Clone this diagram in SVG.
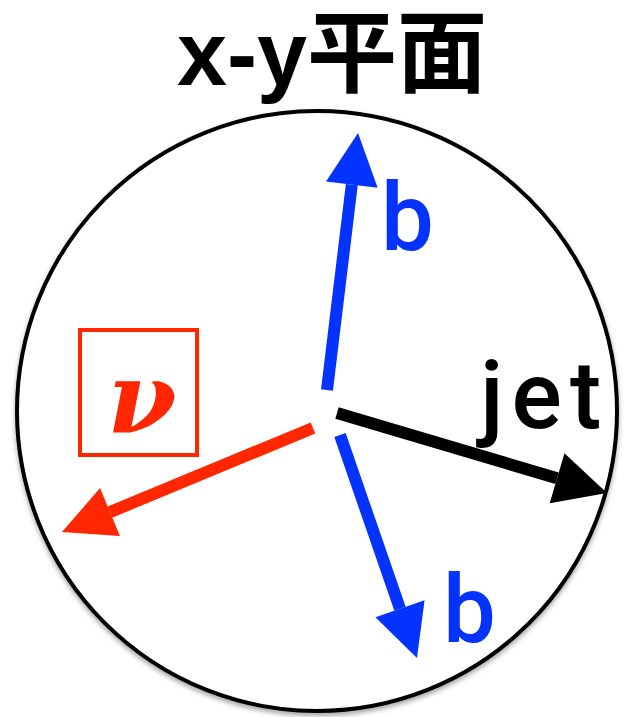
<svg xmlns="http://www.w3.org/2000/svg" width="630" height="717" viewBox="0 0 630 717">
  <style>
    .sans { font-family: "Liberation Sans", "Noto Sans CJK JP", Arial, sans-serif; }
    .lbl { font-family: Roboto, "Liberation Sans", Arial, sans-serif; font-size: 94px; font-weight: 500; }
    .blue { fill: #0433ff; }
    .arrow { fill: none; stroke-width: 12; stroke-linecap: butt; }
  </style>
  <defs>
    <filter id="shadow" x="-10%" y="-10%" width="120%" height="120%">
      <feDropShadow dx="0" dy="3" stdDeviation="2.5" flood-color="#000" flood-opacity="0.35"/>
    </filter>
    <marker id="headBlue" markerUnits="userSpaceOnUse" markerWidth="52" markerHeight="54" refX="0" refY="27" orient="auto" overflow="visible">
      <path d="M0,1 L52,27 L0,53 Z" fill="#0433ff"/>
    </marker>
    <marker id="headBlack" markerUnits="userSpaceOnUse" markerWidth="52" markerHeight="54" refX="0" refY="27" orient="auto" overflow="visible">
      <path d="M0,1 L52,27 L0,53 Z" fill="#000"/>
    </marker>
    <marker id="headRed" markerUnits="userSpaceOnUse" markerWidth="52" markerHeight="54" refX="0" refY="27" orient="auto" overflow="visible">
      <path d="M0,1 L52,27 L0,53 Z" fill="#ff2600"/>
    </marker>
  </defs>
  <rect width="630" height="717" fill="#fff"/>

  <g id="title">
    <text class="sans" x="332" y="85" font-size="90" font-weight="bold" text-anchor="middle" fill="#000">x-y平面</text>
  </g>

  <g id="plane">
    <circle cx="317" cy="411" r="300" fill="#fff" stroke="#000" stroke-width="4" filter="url(#shadow)"/>
  </g>

  <g id="connectors">
    <line class="arrow" x1="327" y1="390" x2="351.8" y2="184.6" stroke="#0433ff" marker-end="url(#headBlue)"/>
    <line class="arrow" x1="340" y1="435" x2="400.0" y2="608.8" stroke="#0433ff" marker-end="url(#headBlue)"/>
    <line class="arrow" x1="337" y1="413" x2="557.1" y2="478.2" stroke="#000" marker-end="url(#headBlack)"/>
    <line class="arrow" x1="313" y1="428" x2="110.0" y2="512.1" stroke="#ff2600" marker-end="url(#headRed)"/>
  </g>

  <g id="b-upper">
    <text class="lbl blue" x="381" y="250">b</text>
  </g>
  <g id="b-lower">
    <text class="lbl blue" x="443" y="642">b</text>
  </g>
  <g id="jet">
    <text class="lbl" x="480" y="428" font-size="98" letter-spacing="8" fill="#000">jet</text>
  </g>
  <g id="neutrino">
    <rect x="80" y="330" width="117" height="125" fill="none" stroke="#ff2600" stroke-width="4"/>
    <text x="142" y="433" font-family="'DejaVu Serif', 'Liberation Serif', serif" font-style="italic" font-weight="bold" font-size="100" text-anchor="middle" fill="#ff2600">ν</text>
  </g>
</svg>
